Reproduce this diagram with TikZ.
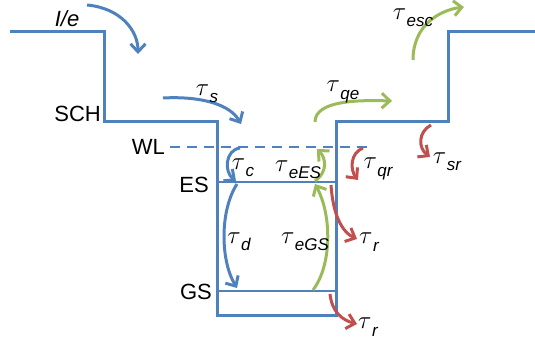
\documentclass[tikz,border=0pt]{standalone}
\usepackage{fontspec}
\setmainfont{Liberation Sans}
\usetikzlibrary{arrows.meta}
\definecolor{cblue}{HTML}{4F81BD}
\definecolor{cgreen}{HTML}{9BBB59}
\definecolor{cred}{HTML}{C0504D}
\tikzset{
  band/.style={cblue, line width=3pt, line join=miter},
  lvl/.style={cblue, line width=2.3pt},
  arr/.style={line width=3pt, -{Straight Barb[length=8pt,width=15pt,line width=3pt]}},
  lbl/.style={font=\fontsize{22}{24}\selectfont, inner sep=0pt},
  tlbl/.style={font=\fontsize{23}{25}\selectfont, inner sep=0pt}
}
\newcommand{\tsub}[1]{$\tau$\kern0.5pt\raisebox{-0.32em}{\fontsize{17}{17}\selectfont\itshape #1}}
\begin{document}
\begin{tikzpicture}[x=1pt,y=-1pt]
\useasboundingbox (0,0) rectangle (535,342);
% band profile
\draw[band] (10,32) -- (104,32) -- (104,122) -- (217,122) -- (217,315) -- (336,315) -- (336,122) -- (448,122) -- (448,32) -- (535,32);
% levels
\draw[lvl, dash pattern=on 10pt off 7pt] (170,147) -- (370,147);
\draw[lvl] (217,182) -- (336,182);
\draw[lvl] (217,291) -- (336,291);
% labels
\node[lbl, anchor=center] (ie) at (67,19) {\textit{I/e}};
\node[lbl, anchor=east] (sch) at (101,114) {SCH};
\node[lbl, anchor=east] (wl) at (165,147) {WL};
\node[lbl, anchor=east] (es) at (209,185) {ES};
\node[lbl, anchor=east] (gs) at (212,292) {GS};
% coordinates
\coordinate (ie1) at (87,5);   \coordinate (ie2) at (138,54);
\coordinate (s1) at (163,98);  \coordinate (s2) at (241,124);
\coordinate (c1) at (240,148); \coordinate (c2) at (236,181);
\coordinate (d1) at (237,184); \coordinate (d2) at (237,288);
\coordinate (g1) at (313,290); \coordinate (g2) at (315,184);
\coordinate (e1) at (315,181); \coordinate (e2) at (317,149);
\coordinate (q1) at (315,122); \coordinate (q2) at (392,101);
\coordinate (x1) at (413,60);  \coordinate (x2) at (464,7);
\coordinate (sr1) at (431,125); \coordinate (sr2) at (430,157);
\coordinate (qr1) at (363,148); \coordinate (qr2) at (358,180);
\coordinate (r1) at (331,185); \coordinate (r2) at (357,239);
\coordinate (rr1) at (330,294); \coordinate (rr2) at (357,324);
% blue arrows
\draw[arr, cblue] (ie1) .. controls (120,8) and (138,30) .. (ie2);
\draw[arr, cblue] (s1) .. controls (200,96) and (230,104) .. (s2);
\draw[arr, cblue] (c1) .. controls (225,150) and (224,172) .. (c2);
\draw[arr, cblue] (d1) .. controls (220,210) and (220,260) .. (d2);
% green arrows
\draw[arr, cgreen] (g1) .. controls (332,265) and (332,215) .. (g2);
\draw[arr, cgreen] (e1) .. controls (328,172) and (326,158) .. (e2);
\draw[arr, cgreen] (q1) .. controls (315,100) and (360,100) .. (q2);
\draw[arr, cgreen] (x1) .. controls (413,25) and (440,10) .. (x2);
% red arrows
\draw[arr, cred] (sr1) .. controls (418,132) and (418,148) .. (sr2);
\draw[arr, cred] (qr1) .. controls (350,153) and (350,170) .. (qr2);
\draw[arr, cred] (r1) .. controls (333,215) and (342,232) .. (r2);
\draw[arr, cred] (rr1) .. controls (332,312) and (342,320) .. (rr2);
% tau labels
\node[tlbl] (ts) at (207,94) {\tsub{s}};
\node[tlbl] (tc) at (243,168) {\tsub{c}};
\node[tlbl] (td) at (239,242) {\tsub{d}};
\node[tlbl] (teGS) at (305,242) {\tsub{eGS}};
\node[tlbl] (teES) at (298,170) {\tsub{eES}};
\node[tlbl] (tqe) at (343,92) {\tsub{qe}};
\node[tlbl] (tesc) at (413,18) {\tsub{esc}};
\node[tlbl] (tsr) at (447,162) {\tsub{sr}};
\node[tlbl] (tqr) at (378,169) {\tsub{qr}};
\node[tlbl] (tr1) at (369,242) {\tsub{r}};
\node[tlbl] (tr2) at (368,327) {\tsub{r}};
\end{tikzpicture}
\end{document}
